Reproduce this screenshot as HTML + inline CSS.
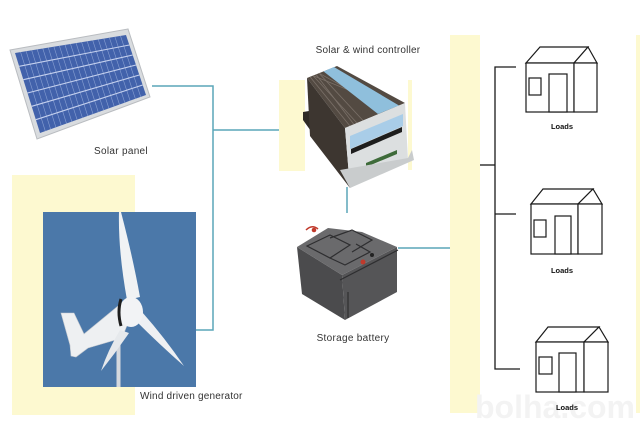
<!DOCTYPE html>
<html><head><meta charset="utf-8"><style>
html,body{margin:0;padding:0;background:#fff;}
svg{display:block;}
text{font-family:"Liberation Sans",Arial,sans-serif;}
</style></head><body>
<svg width="640" height="445" viewBox="0 0 640 445" xmlns="http://www.w3.org/2000/svg">
<rect width="640" height="445" fill="#ffffff"/>
<!-- yellow blocks -->
<rect x="12" y="175" width="123" height="240" fill="#fdf9d0"/>
<rect x="279" y="80" width="26" height="91" fill="#fdf9d0"/>
<rect x="408" y="80" width="4" height="90" fill="#fdf9d0"/>
<rect x="450" y="35" width="30" height="378" fill="#fdf9d0"/>
<rect x="636" y="35" width="4" height="378" fill="#fdf9d0"/>

<!-- watermark -->
<text x="555" y="418" font-size="32" font-weight="bold" fill="#f3f3f3" text-anchor="middle">bolha.com</text>

<!-- teal connectors -->
<g stroke="#5aa6b9" stroke-width="1.5" fill="none">
<path d="M152 86 H213 V330 H196"/>
<path d="M213 130 H279"/>
<path d="M347 187 V213"/>
<path d="M398 248 H450"/>
</g>

<!-- solar panel -->
<polygon points="10,50 128,29 150,97 37,139" fill="#d9dcdf" stroke="#b9bcc0" stroke-width="1"/>
<polygon points="15,53 126,35 146,95 40,133" fill="#4262ab"/>
<g stroke="#8fa6d6" stroke-width="0.6" opacity="0.9">
<line x1="20.6" y1="52.1" x2="45.3" y2="131.1"/>
<line x1="26.1" y1="51.2" x2="50.6" y2="129.2"/>
<line x1="31.7" y1="50.3" x2="55.9" y2="127.3"/>
<line x1="37.2" y1="49.4" x2="61.2" y2="125.4"/>
<line x1="42.8" y1="48.5" x2="66.5" y2="123.5"/>
<line x1="48.3" y1="47.6" x2="71.8" y2="121.6"/>
<line x1="53.9" y1="46.7" x2="77.1" y2="119.7"/>
<line x1="59.4" y1="45.8" x2="82.4" y2="117.8"/>
<line x1="65" y1="44.9" x2="87.7" y2="115.9"/>
<line x1="70.5" y1="44" x2="93" y2="114"/>
<line x1="76.1" y1="43.1" x2="98.3" y2="112.1"/>
<line x1="81.6" y1="42.2" x2="103.6" y2="110.2"/>
<line x1="87.2" y1="41.3" x2="108.9" y2="108.3"/>
<line x1="92.7" y1="40.4" x2="114.2" y2="106.4"/>
<line x1="98.3" y1="39.5" x2="119.5" y2="104.5"/>
<line x1="103.8" y1="38.6" x2="124.8" y2="102.6"/>
<line x1="109.4" y1="37.7" x2="130.1" y2="100.7"/>
<line x1="114.9" y1="36.8" x2="135.4" y2="98.8"/>
<line x1="120.5" y1="35.9" x2="140.7" y2="96.9"/>
</g>
<g stroke="#c4d0ee" stroke-width="1.1">
<line x1="19.2" y1="66.3" x2="129.3" y2="45"/>
<line x1="23.3" y1="79.7" x2="132.7" y2="55"/>
<line x1="27.5" y1="93" x2="136" y2="65"/>
<line x1="31.7" y1="106.3" x2="139.3" y2="75"/>
<line x1="35.8" y1="119.7" x2="142.7" y2="85"/>
</g>
<text x="121" y="154" font-size="10" fill="#333" text-anchor="middle" letter-spacing="0.3">Solar panel</text>

<!-- controller -->
<text x="368" y="53" font-size="10" fill="#333" text-anchor="middle" letter-spacing="0.2">Solar &amp; wind controller</text>
<polygon points="303,112 309,111 346,164 346,176 341,173 303,120" fill="#2f2a26"/>
<polygon points="307,78 345,128 350,188 310,136" fill="#3d3630"/>
<polygon points="307,78 337,66 405,103 345,128" fill="#534a42"/>
<g stroke="#7a7068" stroke-width="0.8">
<line x1="313" y1="75.6" x2="393" y2="108"/>
<line x1="319" y1="73.2" x2="387" y2="110.5"/>
<line x1="313" y1="75.6" x2="357" y2="123"/>
<line x1="319" y1="73.2" x2="363" y2="120.5"/>
<line x1="316" y1="74.4" x2="354" y2="124.5"/>
<line x1="310" y1="76.8" x2="350" y2="126"/>
</g>
<polygon points="334,67 399,105.5 378,114 323.5,71.4" fill="#8fbfdc"/>
<polygon points="345,128 405,103 408,160 350,188" fill="#dcdfe0"/>
<polygon points="350,136 403,114 403,126 350,149" fill="#a9cde8"/>
<polygon points="351,149 402,127 402,132 351,154" fill="#1d1d1d"/>
<polygon points="366,163 397,150 397,154 366,167" fill="#3e6b3a"/>
<polygon points="340,170 350,188 414,160 412,150 408,158" fill="#c9cccd"/>

<!-- battery -->
<polygon points="297,247 342,275 345,320 302,294" fill="#4b4b4d"/>
<polygon points="342,275 397,247 397,292 345,320" fill="#555557"/>
<polygon points="297,247 328,228 362,232 397,247 342,275" fill="#6a6a6c"/>
<g stroke="#2e2e30" stroke-width="1.2" fill="none">
<path d="M307 246 L330 235 L350 245 L330 258 Z"/>
<path d="M330 238 L352 230 L372 240 L352 252"/>
<path d="M330 258 L345 265 L370 252 L356 244"/>
<line x1="340" y1="280" x2="398" y2="250"/>
<line x1="348" y1="292" x2="348" y2="318"/>
</g>
<path d="M306 230 q6 -6 12 -1" stroke="#c0392b" stroke-width="1.5" fill="none"/>
<circle cx="314" cy="230" r="2.3" fill="#c0392b"/>
<circle cx="363" cy="262" r="2.5" fill="#c0392b"/>
<circle cx="372" cy="255" r="2" fill="#222"/>
<text x="353" y="341" font-size="10" fill="#333" text-anchor="middle" letter-spacing="0.3">Storage battery</text>

<!-- wind photo -->
<rect x="43" y="212" width="153" height="175" fill="#4b78a9"/>
<rect x="116.5" y="335" width="4" height="52" fill="#d5d9de"/>
<path d="M61 313 L74 313 L84 334 L118 306 L130 318 L122 338 L88 348 L76 357 L71 356 L70 345 Z" fill="#eef0f2" stroke="#c5cad0" stroke-width="0.6"/>
<path d="M119 212 Q118 250 127 300 L140 297 Q133 258 121 212 Z" fill="#f0f2f4"/>
<path d="M135 320 Q160 345 184 366 Q165 338 142 312 Z" fill="#eef0f3"/>
<path d="M120 330 Q108 350 101 371 Q116 352 129 333 Z" fill="#e6e9ec"/>
<ellipse cx="131" cy="312" rx="12" ry="15" fill="#f2f3f5"/>
<path d="M121 299 q-4 13 0 27" stroke="#1e1e1e" stroke-width="3" fill="none"/>
<text x="140" y="399" font-size="10" fill="#333" letter-spacing="0.2">Wind driven generator</text>

<!-- loads tree -->
<g stroke="#1a1a1a" stroke-width="1.3" fill="none">
<path d="M516 67 H495 V369 H520"/>
<path d="M480 165 H495"/>
<path d="M495 214 H516"/>
</g>
<!-- houses -->
<g stroke="#1a1a1a" stroke-width="1.2" fill="#fff">
<polygon points="526,63 540,47 588,47 574,63"/>
<polygon points="574,63 588,47 597,63"/>
<rect x="526" y="63" width="48" height="49"/>
<rect x="574" y="63" width="23" height="49"/>
<rect x="529" y="78" width="12" height="17"/>
<rect x="549" y="74" width="18" height="38"/>
<polygon points="531,204 543,189 593,189 578,204"/>
<polygon points="578,204 593,189 602,204"/>
<rect x="531" y="204" width="47" height="50"/>
<rect x="578" y="204" width="24" height="50"/>
<rect x="534" y="220" width="12" height="17"/>
<rect x="555" y="216" width="16" height="38"/>
<polygon points="536,342 548,327 599,327 584,342"/>
<polygon points="584,342 599,327 608,342"/>
<rect x="536" y="342" width="48" height="50"/>
<rect x="584" y="342" width="24" height="50"/>
<rect x="539" y="357" width="13" height="17"/>
<rect x="559" y="353" width="17" height="39"/>
</g>
<g font-size="7.5" font-weight="bold" fill="#111" text-anchor="middle">
<text x="562" y="129">Loads</text>
<text x="562" y="273">Loads</text>
<text x="567" y="410">Loads</text>
</g>
</svg>
</body></html>
